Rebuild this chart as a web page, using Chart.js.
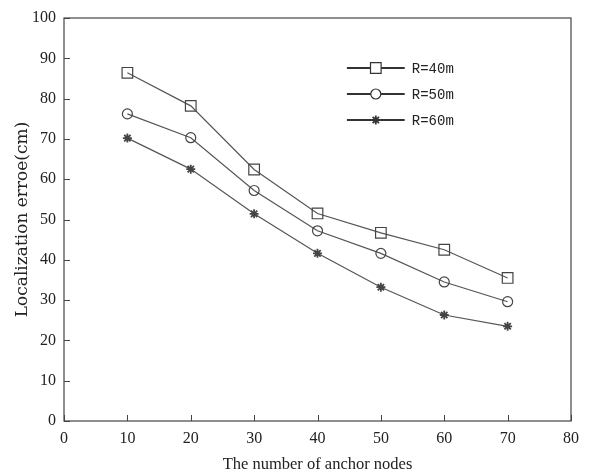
<!DOCTYPE html>
<html><head><meta charset="utf-8">
<script src="https://cdn.jsdelivr.net/npm/chart.js@4/dist/chart.umd.min.js"></script>
<style>html,body{margin:0;padding:0;background:#fff}#wrap{width:594px;height:475px}</style>
</head><body><div id="wrap"><canvas id="c" width="594" height="475"></canvas></div>
<script>
const anchorNodes = [10, 20, 30, 40, 50, 60, 70];
const r40 = [86.4, 78.2, 62.4, 51.5, 46.7, 42.5, 35.5];
const r50 = [76.2, 70.3, 57.2, 47.2, 41.6, 34.5, 29.6];
const r60 = [70.2, 62.5, 51.4, 41.6, 33.2, 26.3, 23.5];
const seriesNames = ['R=40m', 'R=50m', 'R=60m'];
const markerStyles = ['rect', 'circle', 'star'];
const markerRadii = [7.5, 5, 4.5];
const xTicks = [0, 10, 20, 30, 40, 50, 60, 70, 80];
const yTicks = [0, 10, 20, 30, 40, 50, 60, 70, 80, 90, 100];

const lineColor = '#555';
const serif = "'Liberation Serif', 'DejaVu Serif', serif";

function ds(label, vals, i) {
  return {
    label, data: anchorNodes.map((x, k) => ({x, y: vals[k]})),
    borderColor: lineColor, borderWidth: 1.2, backgroundColor: 'rgba(0,0,0,0)',
    pointStyle: markerStyles[i], pointRadius: markerRadii[i], pointBorderColor: '#444',
    pointBorderWidth: i === 2 ? 1.8 : 1.2, pointBackgroundColor: 'rgba(255,255,255,0)', tension: 0
  };
}

const framePlugin = {
  id: 'frame',
  afterDraw(chart) {
    const {ctx, chartArea: a, scales: {x, y}} = chart;
    ctx.save();
    ctx.strokeStyle = '#444'; ctx.lineWidth = 1.2;
    ctx.strokeRect(a.left, a.top, a.right - a.left, a.bottom - a.top);
    ctx.lineWidth = 1;
    xTicks.forEach(v => { const px = Math.round(x.getPixelForValue(v)) + 0.5;
      ctx.beginPath(); ctx.moveTo(px, a.bottom); ctx.lineTo(px, a.bottom - 6); ctx.stroke(); });
    yTicks.forEach(v => { const py = Math.round(y.getPixelForValue(v)) + 0.5;
      ctx.beginPath(); ctx.moveTo(a.left, py); ctx.lineTo(a.left + 6, py); ctx.stroke(); });
    // legend
    const w = a.right - a.left;
    const lx0 = a.left + 0.558 * w, lx1 = a.left + 0.672 * w, tx = a.left + 0.686 * w;
    const ys = [68, 94, 120].map(p => a.top + (p - 18));
    chart.data.datasets.forEach((d, i) => {
      const yy = ys[i];
      ctx.strokeStyle = '#333'; ctx.lineWidth = 1.8;
      ctx.beginPath(); ctx.moveTo(lx0, yy); ctx.lineTo(lx1, yy); ctx.stroke();
      ctx.strokeStyle = '#333'; ctx.fillStyle = '#fff'; ctx.lineWidth = d.pointBorderWidth;
      Chart.helpers.drawPoint(ctx, {pointStyle: d.pointStyle, radius: d.pointRadius, rotation: 0, borderWidth: d.pointBorderWidth}, (lx0 + lx1) / 2, yy);
      ctx.fillStyle = '#222'; ctx.font = "14px 'Liberation Mono', 'DejaVu Sans Mono', monospace";
      ctx.textBaseline = 'middle'; ctx.textAlign = 'left';
      ctx.fillText(d.label, tx, yy + 1);
    });
    ctx.restore();
  }
};

new Chart(document.getElementById('c'), {
  type: 'line',
  data: { datasets: [ds(seriesNames[0], r40, 0), ds(seriesNames[1], r50, 1), ds(seriesNames[2], r60, 2)] },
  options: {
    responsive: false, animation: false, devicePixelRatio: 1,
    layout: { padding: { top: 18, right: 23, left: 12, bottom: 0 } },
    plugins: { legend: { display: false }, tooltip: { enabled: false } },
    scales: {
      x: {
        type: 'linear', min: 0, max: 80,
        afterBuildTicks: s => { s.ticks = xTicks.map(v => ({value: v})); },
        afterFit: s => { s.height = 54; },
        grid: { display: false }, border: { display: false },
        ticks: { color: '#222', font: { family: serif, size: 16 }, padding: 0, maxRotation: 0 },
        title: { display: true, text: 'The number of anchor nodes', color: '#222', font: { family: serif, size: 16.5 }, padding: { top: 4, bottom: 0 } }
      },
      y: {
        type: 'linear', min: 0, max: 100,
        afterBuildTicks: s => { s.ticks = yTicks.map(v => ({value: v})); },
        afterFit: s => { s.width = 52; },
        grid: { display: false }, border: { display: false },
        ticks: { color: '#222', font: { family: serif, size: 16 }, padding: 0 },
        title: { display: true, text: 'Localization erroe(cm)', color: '#222', font: { family: "'DejaVu Serif', serif", size: 17 }, padding: { top: 0, bottom: 4 } }
      }
    }
  },
  plugins: [framePlugin]
});
</script></body></html>
